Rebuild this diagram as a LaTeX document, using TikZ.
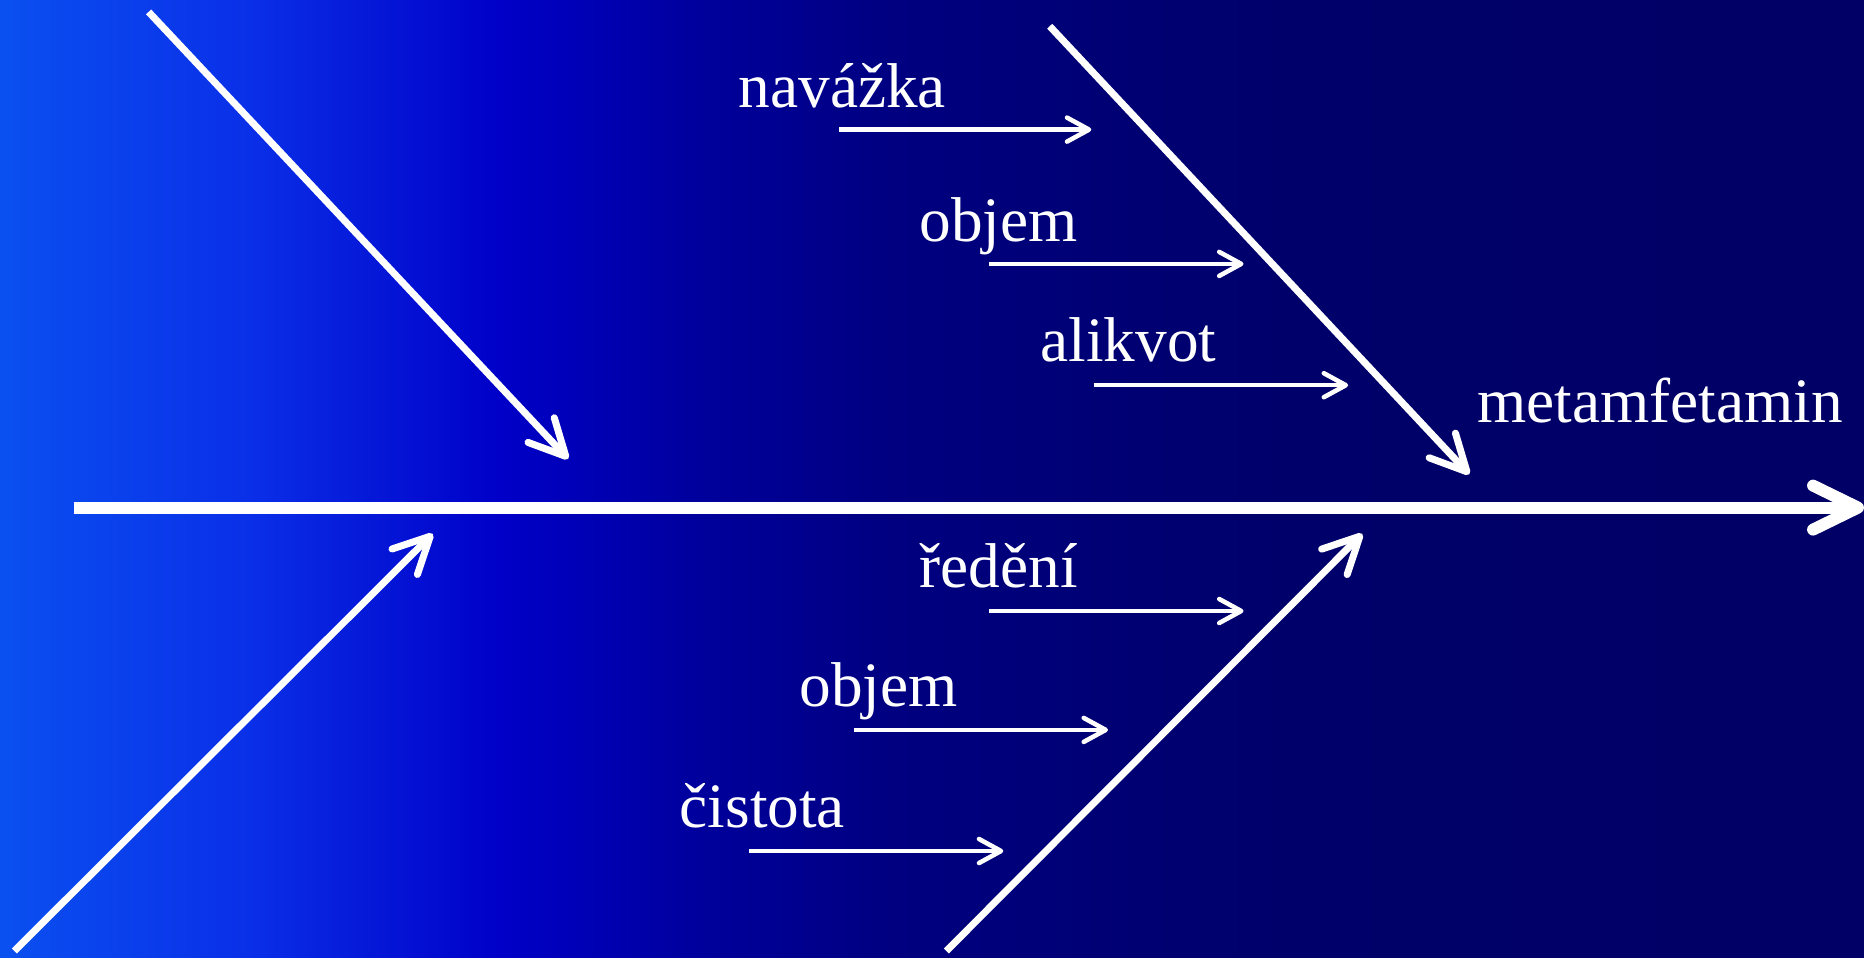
\documentclass[tikz,border=0pt]{standalone}
\usepackage{fontspec}
\setmainfont{Liberation Serif}
\usepackage{tikz}
\usetikzlibrary{arrows.meta}
\definecolor{fbsky}{HTML}{0A50F0}
\definecolor{fbroyal}{HTML}{0A2FE8}
\definecolor{fbblue}{HTML}{0000C8}
\definecolor{fbdeep}{HTML}{00009C}
\definecolor{fbnavy}{HTML}{000080}
\definecolor{fbnight}{HTML}{00006A}
\definecolor{fbink}{HTML}{000066}
\pgfdeclarehorizontalshading{fbback}{100bp}{color(0bp)=(fbsky); color(25bp)=(fbsky);
  color(31.7bp)=(fbroyal); color(38.4bp)=(fbblue); color(43.8bp)=(fbdeep);
  color(49.1bp)=(fbnavy); color(59.9bp)=(fbnight); color(75bp)=(fbink); color(100bp)=(fbink)}

\begin{document}
\begin{tikzpicture}[x=0.1mm,y=-0.1mm,
  spine/.style={white,line width=3.4pt,-{Straight Barb[round,length=4.5mm,width=4.4mm]}},
  bone/.style={white,line width=2pt,-{Straight Barb[round,length=3.6mm,width=3.6mm]}},
  twig/.style={white,line width=1.3pt,-{Straight Barb[round,length=2.2mm,width=2.4mm]}},
  cause/.style={text=white,font=\fontsize{18}{22}\selectfont,inner sep=0pt,anchor=base west}]
  % background
  \shade[shading=fbback] (0,0) rectangle (1864,957);
  \useasboundingbox (0,0) rectangle (1864,957);
  % spine and bones
  \coordinate (tail) at (74,507.6);
  \coordinate (head) at (1864,507.6);
  \coordinate (ul0) at (148.6,11.9);   \coordinate (ul1) at (568.2,458.9);
  \coordinate (ll0) at (14.3,951);     \coordinate (ll1) at (432.7,533.8);
  \coordinate (ur0) at (1049.7,26.2);  \coordinate (ur1) at (1469.3,474.3);
  \coordinate (lr0) at (946.3,951);    \coordinate (lr1) at (1362.3,533.8);
  \draw[spine] (tail) -- (head);
  \draw[bone] (ul0) -- (ul1);
  \draw[bone] (ll0) -- (ll1);
  \draw[bone] (ur0) -- (ur1);
  \draw[bone] (lr0) -- (lr1);
  % effect
  \node[cause] (effect) at (1476.5,422) {metamfetamin};
  % causes, upper right bone
  \node[cause] (navazka) at (738,107) {navážka};
  \node[cause] (objemA) at (919,241) {objem};
  \node[cause] (alikvot) at (1040,361.4) {alikvot};
  \coordinate (t1a) at (839.3,129.6);  \coordinate (t1b) at (1091.3,129.6);
  \coordinate (t2a) at (989,263.9);    \coordinate (t2b) at (1243.5,263.9);
  \coordinate (t3a) at (1093.7,385.2); \coordinate (t3b) at (1348.1,385.2);
  \draw[twig] (t1a) -- (t1b);
  \draw[twig] (t2a) -- (t2b);
  \draw[twig] (t3a) -- (t3b);
  % causes, lower right bone
  \node[cause] (redeni) at (919,587) {ředění};
  \node[cause] (objemB) at (799,706) {objem};
  \node[cause] (cistota) at (679,827) {čistota};
  \coordinate (t4a) at (989,611);      \coordinate (t4b) at (1243.5,611);
  \coordinate (t5a) at (853.5,729.9);  \coordinate (t5b) at (1108,729.9);
  \coordinate (t6a) at (749,851);      \coordinate (t6b) at (1003.3,851);
  \draw[twig] (t4a) -- (t4b);
  \draw[twig] (t5a) -- (t5b);
  \draw[twig] (t6a) -- (t6b);
\end{tikzpicture}
\end{document}
